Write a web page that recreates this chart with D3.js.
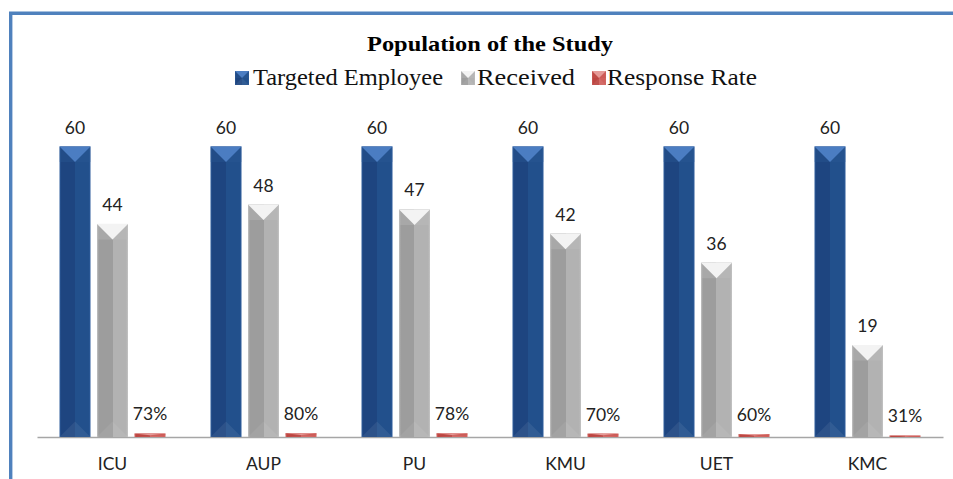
<!DOCTYPE html>
<html>
<head>
<meta charset="utf-8">
<script src="https://cdn.jsdelivr.net/npm/d3@7"></script>
<style>
  body { margin: 0; background: #fff; }
  svg { display: block; }
</style>
</head>
<body>
<div id="chart"></div>
<script>
const width = 953;
const height = 479;

const categories = ["ICU", "AUP", "PU", "KMU", "UET", "KMC"];
const seriesNames = ["Targeted Employee", "Received", "Response Rate"];
const targeted = [60, 60, 60, 60, 60, 60];
const received = [44, 48, 47, 42, 36, 19];
const responseRate = [0.73, 0.80, 0.78, 0.70, 0.60, 0.31];

const seriesValues = [targeted, received, responseRate];
const fmt = [d3.format("d"), d3.format("d"), d3.format(".0%")];

// bevel-ish palette per series
const palette = [
    { left: "#1e4580", right: "#22508c", top: "#4b7dc2", topEdge: "#2a5896", edge: "#2f5d9c" },
    { left: "#9d9d9d", right: "#b2b2b2", top: "#f3f3f3", topEdge: "#bdbdbd", edge: "#c4c4c4" },
    { left: "#bc4541", right: "#d0605c", top: "#e59a97", topEdge: "#c9524e", edge: "#d46a66" }
];

const svg = d3.select("#chart")
    .append("svg")
    .attr("width", width)
    .attr("height", height);

const defs = svg.append("defs");
palette.forEach((p, i) => {
    const g = defs.append("linearGradient")
        .attr("id", "body" + i)
        .attr("x1", "0").attr("x2", "1").attr("y1", "0").attr("y2", "0");
    g.append("stop").attr("offset", "0").attr("stop-color", p.edge);
    g.append("stop").attr("offset", "0.06").attr("stop-color", p.left);
    g.append("stop").attr("offset", "0.5").attr("stop-color", p.left);
    g.append("stop").attr("offset", "0.5").attr("stop-color", p.right);
    g.append("stop").attr("offset", "0.94").attr("stop-color", p.right);
    g.append("stop").attr("offset", "1").attr("stop-color", p.edge);
});

// frame
svg.append("path")
    .attr("d", `M10.7,${height} V13.3 H${width}`)
    .attr("fill", "none")
    .attr("stroke", "#4f81bd")
    .attr("stroke-width", 3.4);

const x0 = d3.scaleBand()
    .domain(categories)
    .range([37, 943]);

const x1 = d3.scaleBand()
    .domain(seriesNames)
    .range([0, x0.bandwidth()])
    .paddingInner(0.173)
    .paddingOuter(0.6);

const y = d3.scaleLinear()
    .domain([0, 60])
    .range([437, 146.5]);

// title
svg.append("text")
    .attr("x", 490)
    .attr("y", 51)
    .attr("text-anchor", "middle")
    .attr("font-family", "'Liberation Serif', 'Times New Roman', serif")
    .attr("font-weight", "bold")
    .attr("font-size", 22)
    .attr("textLength", 246)
    .attr("lengthAdjust", "spacingAndGlyphs")
    .text("Population of the Study");

// legend
const legendItems = [
    { name: seriesNames[0], mx: 235, tx: 253, w: 190 },
    { name: seriesNames[1], mx: 461, tx: 477, w: 98 },
    { name: seriesNames[2], mx: 592, tx: 607, w: 150 }
];

function drawBar(g, bx, by, bw, bh, i) {
    const p = palette[i];
    g.append("rect")
        .attr("x", bx).attr("y", by)
        .attr("width", bw).attr("height", bh)
        .attr("fill", `url(#body${i})`);
    const d = Math.min(bw / 2, bh / 2);
    // top strip + facet
    g.append("polygon")
        .attr("points", [[bx, by], [bx + bw, by], [bx + bw, by + d], [bx, by + d]].join(" "))
        .attr("fill", p.topEdge)
        .attr("opacity", 0.35);
    g.append("polygon")
        .attr("points", [[bx, by], [bx + bw, by], [bx + bw / 2, by + d]].join(" "))
        .attr("fill", p.top);
    // faint bottom facet
    g.append("polygon")
        .attr("points", [[bx, by + bh], [bx + bw, by + bh], [bx + bw / 2, by + bh - d]].join(" "))
        .attr("fill", "#ffffff")
        .attr("opacity", 0.07);
}

const legend = svg.append("g");
legendItems.forEach((item, i) => {
    const g = legend.append("g");
    drawBar(g, item.mx, 71, 14, 14, i);
    g.append("text")
        .attr("x", item.tx)
        .attr("y", 85)
        .attr("font-family", "'Liberation Serif', 'Times New Roman', serif")
        .attr("font-size", 24)
        .attr("fill", "#111")
        .attr("textLength", item.w)
        .attr("lengthAdjust", "spacingAndGlyphs")
        .text(item.name);
});

// axis
const xAxis = d3.axisBottom(x0)
    .tickSize(0)
    .tickSizeOuter(0)
    .tickPadding(21);

const axisG = svg.append("g")
    .attr("transform", `translate(0,${y(0)})`)
    .call(xAxis);
axisG.select(".domain")
    .attr("stroke", "#a6a6a6")
    .attr("stroke-width", 1.3);
axisG.selectAll("text")
    .attr("font-family", "Lato, 'Open Sans', sans-serif")
    .attr("font-size", 17.5)
    .attr("fill", "#222");

// bars
const groups = svg.append("g")
    .selectAll("g")
    .data(categories)
    .join("g")
    .attr("transform", d => `translate(${x0(d)},0)`);

groups.each(function (cat, ci) {
    const g = d3.select(this);
    seriesNames.forEach((s, si) => {
        const v = seriesValues[si][ci];
        const bx = x1(s);
        const by = y(v);
        const bh = y(0) - y(v);
        drawBar(g, bx, by, x1.bandwidth(), bh, si);
        g.append("text")
            .attr("x", bx + x1.bandwidth() / 2)
            .attr("y", by - 13)
            .attr("text-anchor", "middle")
            .attr("font-family", "Lato, 'Open Sans', sans-serif")
            .attr("font-size", 17.5)
            .attr("fill", "#222")
            .text(fmt[si](v));
    });
});
</script>
</body>
</html>
